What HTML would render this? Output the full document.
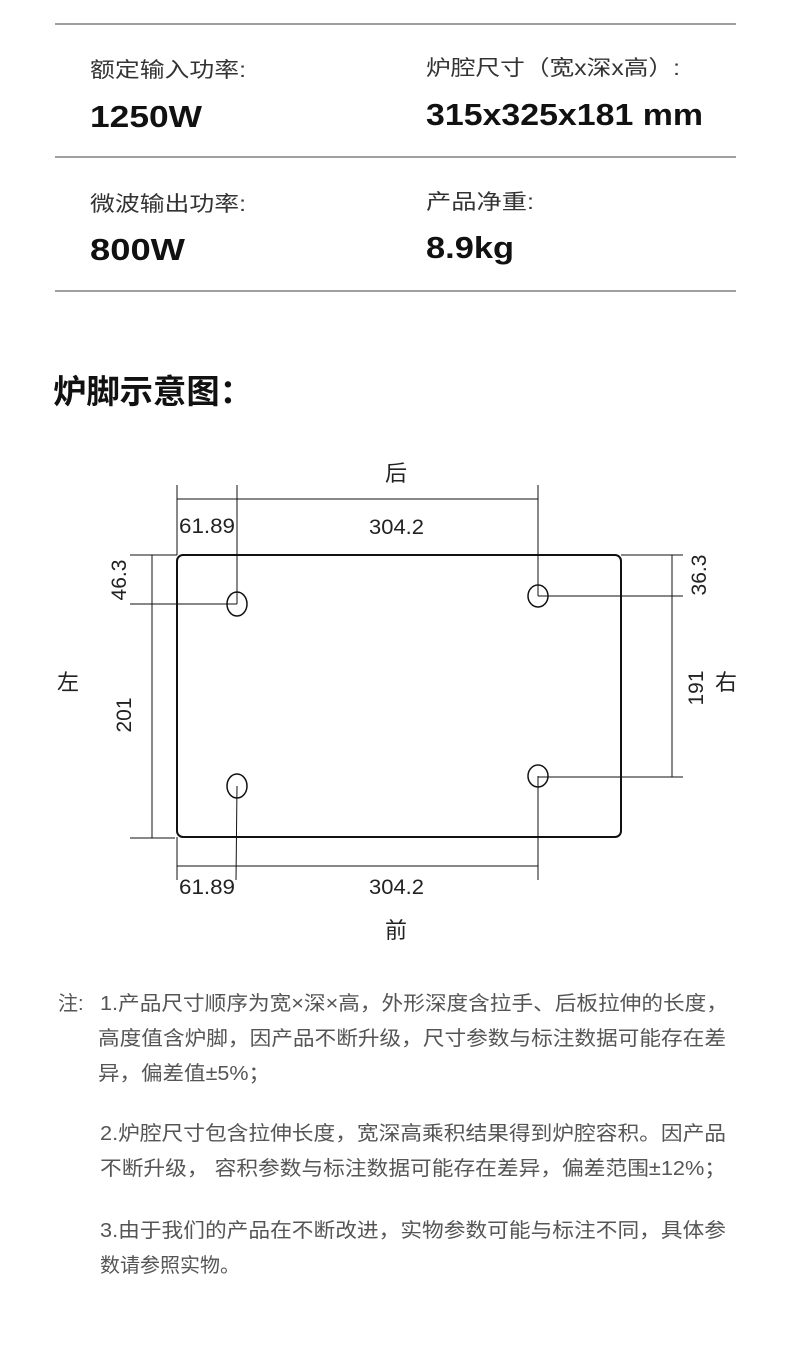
<!DOCTYPE html>
<html><head><meta charset="utf-8"><style>
html,body{margin:0;padding:0;background:#fff;}
body{width:790px;height:1347px;position:relative;overflow:hidden;font-family:"Liberation Sans","Noto Sans CJK SC",sans-serif;}
</style></head><body>
<svg width="790" height="1347" viewBox="0 0 790 1347" xmlns="http://www.w3.org/2000/svg" style="position:absolute;left:0;top:0">
<g stroke="#666" stroke-width="1.2">
<line x1="55" y1="24" x2="736" y2="24"/>
<line x1="55" y1="157" x2="736" y2="157"/>
<line x1="55" y1="291" x2="736" y2="291"/>
</g>
<g font-family="Liberation Sans, Noto Sans CJK SC, sans-serif">
<text x="90" y="77" font-size="21" fill="#333" textLength="156" lengthAdjust="spacingAndGlyphs">额定输入功率:</text>
<text x="426" y="75" font-size="21" fill="#333" textLength="254" lengthAdjust="spacingAndGlyphs">炉腔尺寸（宽x深x高）:</text>
<text x="90" y="127" font-size="31" font-weight="bold" fill="#111" textLength="112" lengthAdjust="spacingAndGlyphs">1250W</text>
<text x="426" y="125" font-size="31" font-weight="bold" fill="#111" textLength="277" lengthAdjust="spacingAndGlyphs">315x325x181 mm</text>
<text x="90" y="211" font-size="21" fill="#333" textLength="156" lengthAdjust="spacingAndGlyphs">微波输出功率:</text>
<text x="426" y="209" font-size="21" fill="#333" textLength="108" lengthAdjust="spacingAndGlyphs">产品净重:</text>
<text x="90" y="260" font-size="31" font-weight="bold" fill="#111" textLength="95" lengthAdjust="spacingAndGlyphs">800W</text>
<text x="426" y="258" font-size="31" font-weight="bold" fill="#111" textLength="88" lengthAdjust="spacingAndGlyphs">8.9kg</text>
<text x="53" y="403" font-size="33" font-weight="bold" fill="#111" textLength="200" lengthAdjust="spacingAndGlyphs">炉脚示意图：</text>
</g>
<g fill="none" stroke="#111" stroke-width="1">
<rect x="177" y="555" width="444" height="282" rx="6" stroke-width="2"/>
<ellipse cx="237" cy="604" rx="10" ry="12" stroke-width="1.5"/>
<ellipse cx="538" cy="596" rx="10" ry="11" stroke-width="1.5"/>
<ellipse cx="237" cy="786" rx="10" ry="12" stroke-width="1.5"/>
<ellipse cx="538" cy="776" rx="10" ry="11" stroke-width="1.5"/>
<line x1="177" y1="485" x2="177" y2="555"/>
<line x1="237" y1="485" x2="237" y2="604"/>
<line x1="538" y1="485" x2="538" y2="596"/>
<line x1="177" y1="499" x2="538" y2="499"/>
<line x1="177" y1="837" x2="177" y2="880"/>
<line x1="237" y1="786" x2="236" y2="880"/>
<line x1="538" y1="776" x2="538" y2="880"/>
<line x1="177" y1="866" x2="538" y2="866"/>
<line x1="130" y1="555" x2="177" y2="555"/>
<line x1="130" y1="604" x2="237" y2="604"/>
<line x1="130" y1="838" x2="175" y2="838"/>
<line x1="152" y1="555" x2="152" y2="838"/>
<line x1="621" y1="555" x2="683" y2="555"/>
<line x1="538" y1="596" x2="683" y2="596"/>
<line x1="538" y1="777" x2="683" y2="777"/>
<line x1="672" y1="555" x2="672" y2="777"/>
</g>
<g font-family="Liberation Sans, Noto Sans CJK SC, sans-serif" fill="#222" font-size="22">
<text x="396" y="481" text-anchor="middle">后</text>
<text x="396" y="938" text-anchor="middle">前</text>
<text x="68" y="690" text-anchor="middle">左</text>
<text x="726" y="690" text-anchor="middle">右</text>
<text x="179" y="533" font-size="21" textLength="56" lengthAdjust="spacingAndGlyphs">61.89</text>
<text x="369" y="534" font-size="21" textLength="55" lengthAdjust="spacingAndGlyphs">304.2</text>
<text x="179" y="894" font-size="21" textLength="56" lengthAdjust="spacingAndGlyphs">61.89</text>
<text x="369" y="894" font-size="21" textLength="55" lengthAdjust="spacingAndGlyphs">304.2</text>
<text transform="translate(126,580) rotate(-90)" text-anchor="middle" font-size="21">46.3</text>
<text transform="translate(131,715) rotate(-90)" text-anchor="middle" font-size="21">201</text>
<text transform="translate(706,575) rotate(-90)" text-anchor="middle" font-size="21">36.3</text>
<text transform="translate(703,688) rotate(-90)" text-anchor="middle" font-size="21">191</text>
</g>
<g font-family="Liberation Sans, Noto Sans CJK SC, sans-serif" fill="#555" font-size="20">
<text x="58" y="1010">注:</text>
<text x="100" y="1010" textLength="628" lengthAdjust="spacingAndGlyphs">1.产品尺寸顺序为宽×深×高，外形深度含拉手、后板拉伸的长度，</text>
<text x="98" y="1045" textLength="628" lengthAdjust="spacingAndGlyphs">高度值含炉脚，因产品不断升级，尺寸参数与标注数据可能存在差</text>
<text x="98" y="1080" textLength="172" lengthAdjust="spacingAndGlyphs">异，偏差值±5%；</text>
<text x="100" y="1140" textLength="626" lengthAdjust="spacingAndGlyphs">2.炉腔尺寸包含拉伸长度，宽深高乘积结果得到炉腔容积。因产品</text>
<text x="100" y="1175" textLength="626" lengthAdjust="spacingAndGlyphs">不断升级， 容积参数与标注数据可能存在差异，偏差范围±12%；</text>
<text x="100" y="1237" textLength="626" lengthAdjust="spacingAndGlyphs">3.由于我们的产品在不断改进，实物参数可能与标注不同，具体参</text>
<text x="100" y="1272">数请参照实物。</text>
</g>
</svg>
</body></html>
